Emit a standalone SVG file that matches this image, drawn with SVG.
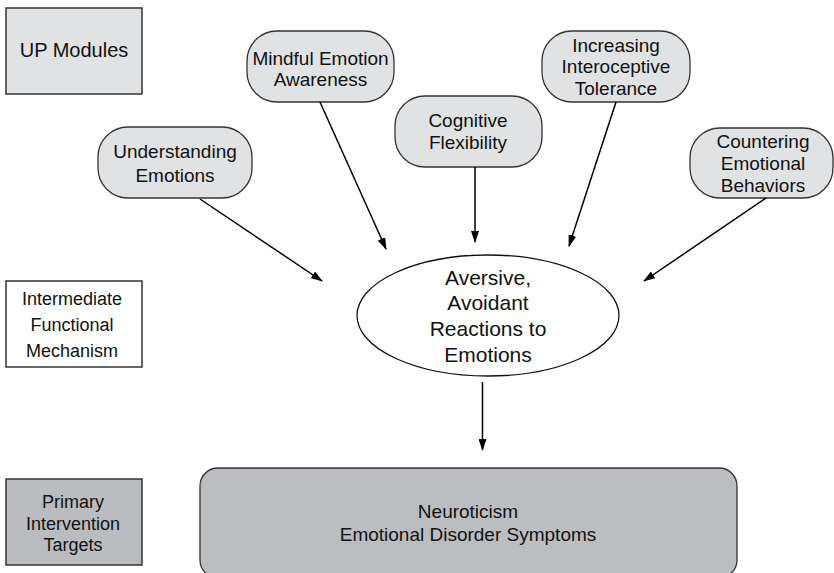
<svg xmlns="http://www.w3.org/2000/svg" width="834" height="573" viewBox="0 0 834 573">
<defs>
<style>
text{font-family:"Liberation Sans",Arial,sans-serif;fill:#111;text-anchor:middle}
.n{font-size:19px}
.s{font-size:18px}
.e{font-size:21px}
.mod{fill:#e1e2e4;stroke:#333;stroke-width:1.3}
.lbl{stroke:#333;stroke-width:1.5}
.c{stroke:#000;stroke-width:1.5;fill:none;marker-end:url(#ah)}
</style>
<marker id="ah" viewBox="0 0 12 8" refX="11" refY="4" markerWidth="12" markerHeight="8" markerUnits="userSpaceOnUse" orient="auto">
<path d="M0,0 L12,4 L0,8 Z" fill="#000"/>
</marker>
</defs>
<rect width="834" height="573" fill="#fff"/>
<g id="up-modules">
<rect x="6" y="8" width="136" height="86" class="lbl" fill="#e1e2e4"/>
<text class="n" x="74" y="57" style="font-size:20px">UP Modules</text>
</g>
<g id="intermediate">
<rect x="6" y="281" width="136" height="86" class="lbl" fill="#fff"/>
<text class="s" x="72" y="305">Intermediate</text>
<text class="s" x="72" y="331">Functional</text>
<text class="s" x="72" y="357">Mechanism</text>
</g>
<g id="primary">
<rect x="6" y="479" width="136" height="86" class="lbl" fill="#bbbcc0"/>
<text class="s" x="73" y="508">Primary</text>
<text class="s" x="73" y="530">Intervention</text>
<text class="s" x="73" y="551">Targets</text>
</g>
<g id="understanding">
<rect x="98" y="127" width="154" height="71" rx="30" class="mod"/>
<text class="n" x="175" y="158">Understanding</text>
<text class="n" x="175" y="182">Emotions</text>
</g>
<g id="mindful">
<rect x="247" y="31" width="147" height="71" rx="30" class="mod"/>
<text class="n" x="320.5" y="64.5">Mindful Emotion</text>
<text class="n" x="320.5" y="86">Awareness</text>
</g>
<g id="cognitive">
<rect x="395" y="96" width="147" height="71" rx="30" class="mod"/>
<text class="n" x="468" y="127">Cognitive</text>
<text class="n" x="468" y="149">Flexibility</text>
</g>
<g id="interoceptive">
<rect x="542" y="31" width="148" height="71" rx="30" class="mod"/>
<text class="n" x="616" y="52">Increasing</text>
<text class="n" x="616" y="73">Interoceptive</text>
<text class="n" x="616" y="95">Tolerance</text>
</g>
<g id="countering">
<rect x="690" y="128" width="143" height="70" rx="30" class="mod"/>
<text class="n" x="763" y="148">Countering</text>
<text class="n" x="763" y="170">Emotional</text>
<text class="n" x="763" y="192">Behaviors</text>
</g>
<g id="aversive">
<ellipse cx="488" cy="315.5" rx="131" ry="60.5" fill="#fff" stroke="#111" stroke-width="1.3"/>
<text class="e" x="488" y="285">Aversive,</text>
<text class="e" x="488" y="310">Avoidant</text>
<text class="e" x="488" y="336">Reactions to</text>
<text class="e" x="488" y="362">Emotions</text>
</g>
<g id="neuroticism">
<rect x="200" y="468" width="537" height="110" rx="18" fill="#bcbdc1" stroke="#333" stroke-width="1.3"/>
<text class="n" x="468" y="518">Neuroticism</text>
<text class="n" x="468" y="541">Emotional Disorder Symptoms</text>
</g>
<g id="connectors">
<line class="c" x1="200" y1="199" x2="322" y2="281"/>
<line class="c" x1="320" y1="102" x2="386" y2="249"/>
<line class="c" x1="475" y1="167" x2="475" y2="242"/>
<line class="c" x1="616" y1="102" x2="569" y2="246"/>
<line class="c" x1="766" y1="198" x2="644" y2="281"/>
<line class="c" x1="482.5" y1="382" x2="482.5" y2="450"/>
</g>
</svg>
